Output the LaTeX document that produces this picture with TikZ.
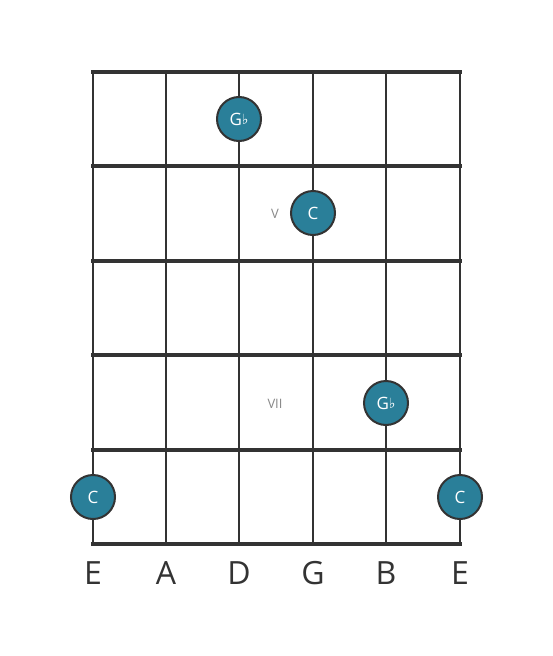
\documentclass[tikz,border=0pt]{standalone}
\usepackage{fontspec}
\setmainfont{Open Sans}
\newfontfamily\symfont{DejaVu Sans}
\definecolor{dotfill}{HTML}{2A7F99}
\definecolor{linec}{HTML}{333333}
\definecolor{labgray}{HTML}{888888}
\begin{document}
\begin{tikzpicture}[x=1pt,y=-1pt,
  fretline/.style={draw=linec,line width=4.5pt},
  stringline/.style={draw=linec,line width=2.8pt},
  notedot/.style={circle,fill=dotfill,draw=linec,line width=2pt,minimum size=44pt,inner sep=0pt,text=white,font=\fontsize{17}{17}\selectfont},
  strname/.style={text=linec,font=\fontsize{32}{32}\selectfont,inner sep=0pt},
  fretlab/.style={text=labgray,font=\fontsize{13}{13}\selectfont,inner sep=0pt}]
\useasboundingbox (0,0) rectangle (553,656);
% strings
\foreach \x/\n in {93/s1,166/s2,239/s3,313/s4,386/s5,460/s6}{
  \coordinate (\n t) at (\x,72);
  \coordinate (\n b) at (\x,544);
  \draw[stringline] (\n t) -- (\n b);
}
% frets
\foreach \y/\n in {72/f0,166/f1,261/f2,355/f3,450/f4,544/f5}{
  \coordinate (\n l) at (93,\y);
  \coordinate (\n r) at (460,\y);
  \draw[fretline,line cap=rect] (\n l) -- (\n r);
}
% string names
\node[strname] (nE1) at (93,573) {E};
\node[strname] (nA) at (166,573) {A};
\node[strname] (nD) at (239,573) {D};
\node[strname] (nG) at (313,573) {G};
\node[strname] (nB) at (386,573) {B};
\node[strname] (nE2) at (460,573) {E};
% fret labels
\node[fretlab] (lV) at (275,214) {V};
\node[fretlab] (lVII) at (275,404) {VII};
% dots
\node[notedot] (d1) at (239,119) {G\raisebox{0.5pt}{\symfont\fontsize{14}{14}\selectfont ♭}};
\node[notedot] (d2) at (313,213) {C};
\node[notedot] (d3) at (386,403) {G\raisebox{0.5pt}{\symfont\fontsize{14}{14}\selectfont ♭}};
\node[notedot] (d4) at (93,497) {C};
\node[notedot] (d5) at (460,497) {C};
\end{tikzpicture}
\end{document}
